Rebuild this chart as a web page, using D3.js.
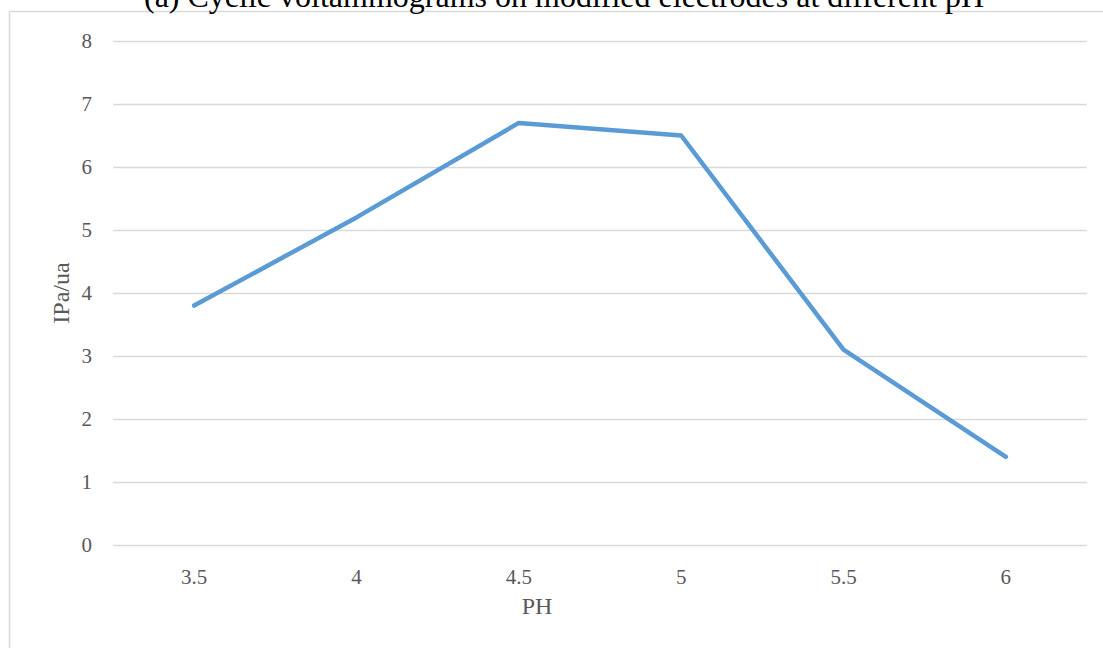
<!DOCTYPE html>
<html><head><meta charset="utf-8">
<script src="https://cdn.jsdelivr.net/npm/d3@7"></script>
<style>body{margin:0;background:#fff;overflow:hidden}</style>
</head><body>
<svg id="c" width="1103" height="648"></svg>
<script>
const categories = ["3.5","4","4.5","5","5.5","6"];
const values = [3.8, 5.2, 6.7, 6.5, 3.1, 1.4];
const yTicks = [0,1,2,3,4,5,6,7,8];
const title = "(a) Cyclic voltammograms on modified electrodes at different pH";
const xTitle = "PH";
const yTitle = "IPa/ua";

const svg = d3.select("#c");
const font = "'Liberation Serif', 'Times New Roman', serif";
const grey = "#595959";

svg.append("rect").attr("x",9.5).attr("y",11.5).attr("width",1120).attr("height",660)
  .attr("fill","#fff").attr("stroke","#d9d9d9").attr("stroke-width",1.5);

const x = d3.scaleBand().domain(categories).range([113,1087]);
const y = d3.scaleLinear().domain([0,8]).range([545,41]);

const yAxis = d3.axisLeft(y).tickValues(yTicks).tickSize(-(1087-113)).tickPadding(21).tickFormat(d3.format("d"));
const gy = svg.append("g").attr("transform","translate(113,0)").call(yAxis);
gy.select(".domain").remove();
gy.selectAll(".tick line").attr("stroke","#d9d9d9").attr("stroke-width",1.3);
gy.selectAll(".tick text").attr("fill",grey).style("font-family",font).style("font-size","21px");

const xAxis = d3.axisBottom(x).tickSize(0).tickPadding(24);
const gx = svg.append("g").attr("transform","translate(0,545)").call(xAxis);
gx.select(".domain").remove();
gx.selectAll(".tick text").attr("fill",grey).style("font-family",font).style("font-size","21px");

const line = d3.line().x((d,i)=>x(categories[i])+x.bandwidth()/2).y(d=>y(d));
svg.append("path").datum(values).attr("d",line).attr("fill","none")
  .attr("stroke","#5b9bd5").attr("stroke-width",4.5).attr("stroke-linecap","round").attr("stroke-linejoin","round");

svg.append("text").attr("x",537).attr("y",614).attr("text-anchor","middle")
  .attr("fill",grey).style("font-family",font).style("font-size","24px").text(xTitle);
svg.append("text").attr("transform","translate(69,293) rotate(-90)").attr("text-anchor","middle")
  .attr("fill",grey).style("font-family",font).style("font-size","24px").text(yTitle);

svg.append("text").attr("x",564).attr("y",7).attr("text-anchor","middle")
  .attr("fill","#000").style("font-family",font).style("font-size","32px").text(title);
</script>
</body></html>
